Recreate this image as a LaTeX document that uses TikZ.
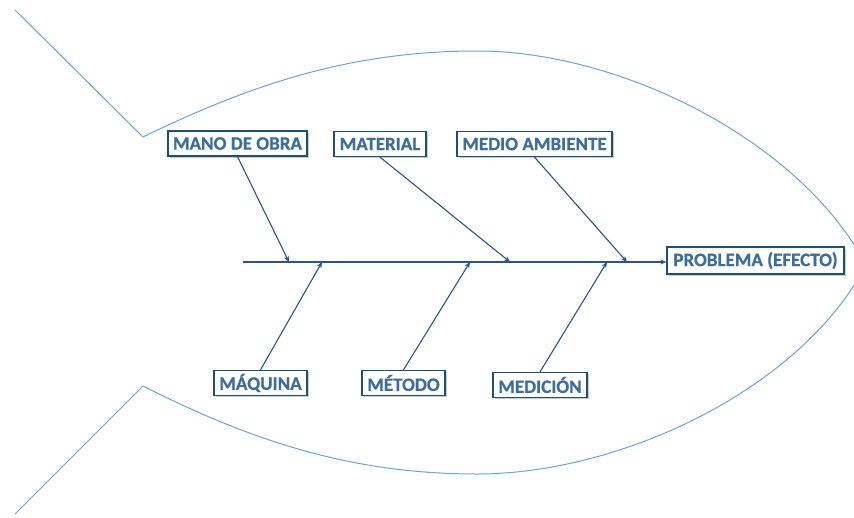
\documentclass[tikz,border=0pt]{standalone}
\usepackage{fontspec}
\setmainfont{Carlito}
\newfontfamily\labelfont[BoldFeatures={FakeBold=0.6}]{Carlito}
\usetikzlibrary{shadows,arrows.meta}
\definecolor{outline}{HTML}{6FA3D8}
\definecolor{boxline}{HTML}{1F4E79}
\definecolor{labeltext}{HTML}{3E6D99}
\definecolor{bone}{HTML}{2A5587}
\tikzset{
  fishline/.style={draw=outline, line width=1pt},
  cause/.style={draw=boxline, line width=1.3pt, fill=white,
    minimum height=25pt, inner xsep=1pt, inner ysep=0pt,
    font=\labelfont\fontsize{19}{21}\selectfont\bfseries, text=labeltext,
    drop shadow={shadow xshift=1.6pt, shadow yshift=-1.6pt, opacity=0.35, fill=black!60}},
  bonearrow/.style={draw=bone, line width=1.1pt, -{Stealth[length=6pt,width=5pt]}}
}
\begin{document}
\begin{tikzpicture}[x=1pt, y=-1pt]
\useasboundingbox (0,0) rectangle (854,517);

% fish body and tail
\draw[fishline] (15,10) -- (143,137)
  .. controls (250,85) and (350,51) .. (477,51)
  .. controls (620,51) and (800,140) .. (866,265);
\draw[fishline] (15,514) -- (143,386)
  .. controls (250,440) and (350,474) .. (477,474)
  .. controls (620,474) and (800,390) .. (866,265);

% effect box
\node[cause, minimum width=177pt, minimum height=27pt] (efecto) at (755.5,260.5) {PROBLEMA (EFECTO)};

% cause boxes
\node[cause, minimum width=139pt] (mano) at (237.5,143.5) {MANO DE OBRA};
\node[cause, minimum width=92pt] (material) at (380,144) {MATERIAL};
\node[cause, minimum width=155pt] (medio) at (534.5,144) {MEDIO AMBIENTE};
\node[cause, minimum width=93pt] (maquina) at (260.5,383) {MÁQUINA};
\node[cause, minimum width=83pt] (metodo) at (403.5,383) {MÉTODO};
\node[cause, minimum width=94pt] (medicion) at (540,385) {MEDICIÓN};

% spine
\coordinate (tail) at (243,262);
\draw[bonearrow] (tail) -- (efecto.west |- tail);

% points where the bones meet the spine
\coordinate (pMano) at (289,262);
\coordinate (pMaterial) at (510,262);
\coordinate (pMedio) at (627,262);
\coordinate (pMaquina) at (322,262);
\coordinate (pMetodo) at (470,262);
\coordinate (pMedicion) at (607,262);

% bones
\draw[bonearrow] (mano.south) -- (pMano);
\draw[bonearrow] (material.south) -- (pMaterial);
\draw[bonearrow] (medio.south) -- (pMedio);
\draw[bonearrow] (maquina.north) -- (pMaquina);
\draw[bonearrow] (metodo.north) -- (pMetodo);
\draw[bonearrow] (medicion.north) -- (pMedicion);
\end{tikzpicture}
\end{document}
